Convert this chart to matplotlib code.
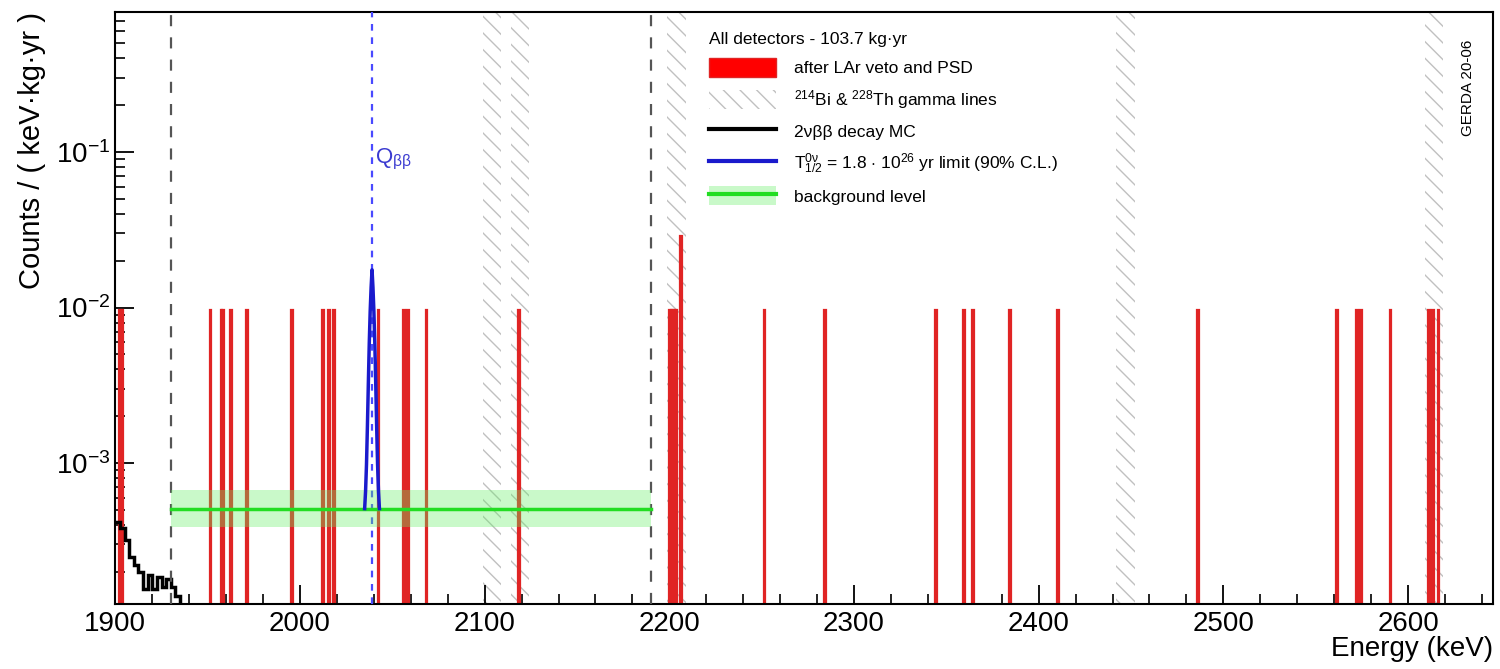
import matplotlib
matplotlib.use("Agg")
import matplotlib.pyplot as plt
from matplotlib.patches import Patch
from matplotlib.lines import Line2D
from matplotlib.ticker import LogLocator, MultipleLocator, NullFormatter

plt.rcParams['font.family'] = ['Liberation Sans', 'DejaVu Sans']
plt.rcParams['mathtext.fontset'] = 'custom'
plt.rcParams['mathtext.rm'] = 'Liberation Sans'
plt.rcParams['mathtext.it'] = 'Liberation Sans:italic'
plt.rcParams['mathtext.bf'] = 'Liberation Sans:bold'
plt.rcParams['hatch.linewidth'] = 1.0

exposure = 103.7  # kg yr

# events after LAr veto and PSD (1 keV bins): bin start energy, counts
event_energy = [1902, 1903, 1951, 1957, 1958, 1962, 1971, 1995, 2012, 2015,
                2018, 2042, 2056, 2058, 2068, 2118, 2200, 2201, 2202, 2203,
                2206, 2251, 2284, 2344, 2359, 2364, 2384, 2410, 2486, 2561,
                2572, 2574, 2590, 2611, 2613, 2616]
event_counts = [1, 1, 1, 1, 1, 1, 1, 1, 1, 1,
                1, 1, 1, 1, 1, 1, 1, 1, 1, 1,
                3, 1, 1, 1, 1, 1, 1, 1, 1, 1,
                1, 1, 1, 1, 1, 1]

# 2vbb MC histogram
mc_edges = [1900, 1902.5, 1905, 1907.5, 1910, 1912.5, 1915, 1917.5, 1920,
            1922.5, 1925, 1927.5, 1930, 1932.5, 1935, 1937.5]
mc_values = [4.2e-4, 3.8e-4, 3.2e-4, 2.5e-4, 2.2e-4, 2.0e-4, 1.55e-4, 1.9e-4,
             1.55e-4, 1.85e-4, 1.6e-4, 1.8e-4, 1.6e-4, 1.4e-4, 1.1e-4]

# 0vbb limit curve (on top of background)
sig_energy = [2035.0, 2035.5, 2036.0, 2036.5, 2037.0, 2037.5, 2038.0, 2038.5,
              2039.0, 2039.5, 2040.0, 2040.5, 2041.0, 2041.5, 2042.0, 2042.5,
              2043.0]
sig_values = [5.1e-4, 6.6e-4, 9.8e-4, 1.73e-3, 3.26e-3, 5.9e-3, 9.5e-3, 1.35e-2,
              1.75e-2, 1.35e-2, 9.5e-3, 5.9e-3, 3.26e-3, 1.73e-3, 9.8e-4,
              6.6e-4, 5.1e-4]

# background level and its band
bkg_range = [1930, 2190]
bkg_level = 5.1e-4
bkg_low = 3.9e-4
bkg_high = 6.7e-4

# 214Bi and 228Th gamma lines (excluded windows)
gamma_windows = [(2099, 2109), (2114, 2124), (2199, 2209), (2442, 2452), (2609, 2619)]

q_bb = 2039

fig = plt.figure(figsize=(15, 6.69), dpi=100)
ax = fig.add_axes([0.0769, 0.097, 0.9184, 0.885])

for lo, hi in gamma_windows:
    ax.axvspan(lo, hi, facecolor='none', edgecolor='#c0c0c0', hatch='\\\\', lw=0, zorder=1)

heights = [c / exposure for c in event_counts]
ax.bar(event_energy, heights, width=1, align='edge', color='#ff0000',
       edgecolor='#e02424', linewidth=1.6, zorder=2)

ax.stairs(mc_values, mc_edges, color='black', lw=2.5, zorder=3, baseline=None)

ax.fill_between(bkg_range, bkg_low, bkg_high, color='#66ee66', alpha=0.35, lw=0, zorder=4)
ax.plot(bkg_range, [bkg_level, bkg_level], color='#22dd22', lw=2.5, zorder=5)

ax.plot(sig_energy, sig_values, color='#1a1acc', lw=2.5, zorder=6)

for e in bkg_range:
    ax.axvline(e, color='#555555', lw=1.6, ls=(0, (5, 5)), zorder=3)
ax.axvline(q_bb, color='#4a4aff', lw=1.6, ls=(0, (3, 3)), zorder=3)
ax.text(q_bb + 1.5, 0.089, r'Q$_{\mathrm{\beta\beta}}$', color='#3a3ad0', fontsize=16,
        ha='left', va='center')

ax.set_yscale('log')
ax.set_xlim(1900, 2646)
ax.set_ylim(1.24e-4, 0.795)

ax.xaxis.set_major_locator(MultipleLocator(100))
ax.xaxis.set_minor_locator(MultipleLocator(20))
ax.yaxis.set_major_locator(LogLocator(base=10))
ax.yaxis.set_minor_locator(LogLocator(base=10, subs=range(2, 10)))
ax.yaxis.set_minor_formatter(NullFormatter())
ax.tick_params(which='major', direction='in', length=14, width=1.3, labelsize=20)
ax.tick_params(which='minor', direction='in', length=7, width=1.2)
ax.tick_params(axis='x', pad=5)
for s in ax.spines.values():
    s.set_linewidth(1.5)

ax.set_xlabel('Energy (keV)', loc='right', fontsize=20, labelpad=-1)
ax.set_ylabel('Counts / ( keV·kg·yr )', loc='top', fontsize=21, labelpad=7)

ax.text(0.982, 0.953, 'GERDA 20-06', transform=ax.transAxes, rotation=90,
        ha='center', va='top', fontsize=11)

handles = [
    Patch(facecolor='#ff0000', edgecolor='#e02424'),
    Patch(facecolor='white', edgecolor='#c0c0c0', hatch='\\\\', lw=0),
    Line2D([], [], color='black', lw=3),
    Line2D([], [], color='#1a1acc', lw=3),
    (Patch(facecolor='#66ee66', alpha=0.35, lw=0), Line2D([], [], color='#22dd22', lw=3)),
]
labels = [
    'after LAr veto and PSD',
    r'$^{214}$Bi & $^{228}$Th gamma lines',
    '2νββ decay MC',
    r'T$^{0\mathrm{\nu}}_{1/2}$ = 1.8 $\cdot$ 10$^{26}$ yr limit (90% C.L.)',
    'background level',
]
leg = ax.legend(handles, labels, loc='upper left', bbox_to_anchor=(0.462, 0.975),
                bbox_transform=fig.transFigure, frameon=False, fontsize=12.5,
                title='All detectors - 103.7 kg·yr', title_fontsize=12.5,
                alignment='left', handlelength=3.9, handleheight=1.3,
                handletextpad=1.0, labelspacing=0.62)

fig.savefig('out.png', dpi=100)
